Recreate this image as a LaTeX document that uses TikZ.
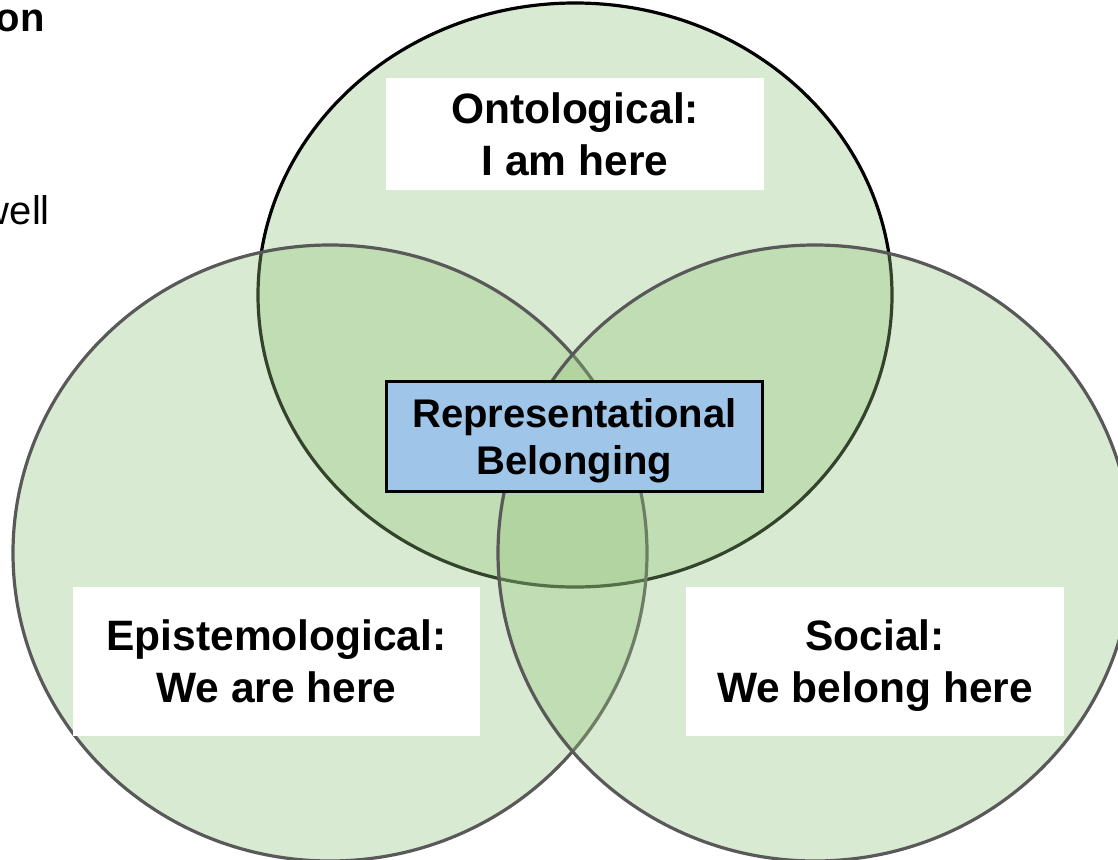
\documentclass[tikz,border=0pt]{standalone}
\usepackage{fontspec}
\setmainfont{Liberation Sans}
\definecolor{vgreen}{HTML}{93C47D}
\definecolor{vgrey}{HTML}{595959}
\definecolor{vblue}{HTML}{9FC5E8}
\begin{document}
\begin{tikzpicture}[x=1pt,y=-1pt,
  venn/.style={fill=vgreen, fill opacity=0.35, line width=3.2pt},
  labelbox/.style={fill=white, inner sep=0pt, align=center,
    font=\bfseries\fontsize{42.5}{52}\selectfont, text depth=0pt},
  corebox/.style={fill=vblue, draw=black, line width=3pt, inner sep=0pt, align=center,
    font=\bfseries\fontsize{40}{47}\selectfont, text depth=0pt},
  fragment/.style={anchor=base east, inner sep=0pt, font=\fontsize{40}{48}\selectfont}]
\useasboundingbox (0,0) rectangle (1118,859);
\clip (0,0) rectangle (1118,859);
% Venn circles
\filldraw[venn, draw=black] (575,295) ellipse [x radius=317pt, y radius=292pt];
\filldraw[venn, draw=vgrey] (330,553) ellipse [x radius=317pt, y radius=308pt];
\filldraw[venn, draw=vgrey] (815,553) ellipse [x radius=317pt, y radius=308pt];
% cropped text fragments
\node[fragment, font=\bfseries\fontsize{40}{48}\selectfont] (fragon) at (45,32) {on};
\node[fragment] (fragwell) at (50,224) {well};
% label boxes
\node[labelbox, minimum width=378pt, minimum height=112pt] (onto) at (575,134) {Ontological:\\I am here};
\node[labelbox, minimum width=407pt, minimum height=149pt] (epist) at (276.5,661.5) {Epistemological:\\We are here};
\node[labelbox, minimum width=378pt, minimum height=149pt] (social) at (875,661.5) {Social:\\We belong here};
\node[corebox, minimum width=376pt, minimum height=110pt] (core) at (574.5,436.5) {Representational\\Belonging};
\end{tikzpicture}
\end{document}
